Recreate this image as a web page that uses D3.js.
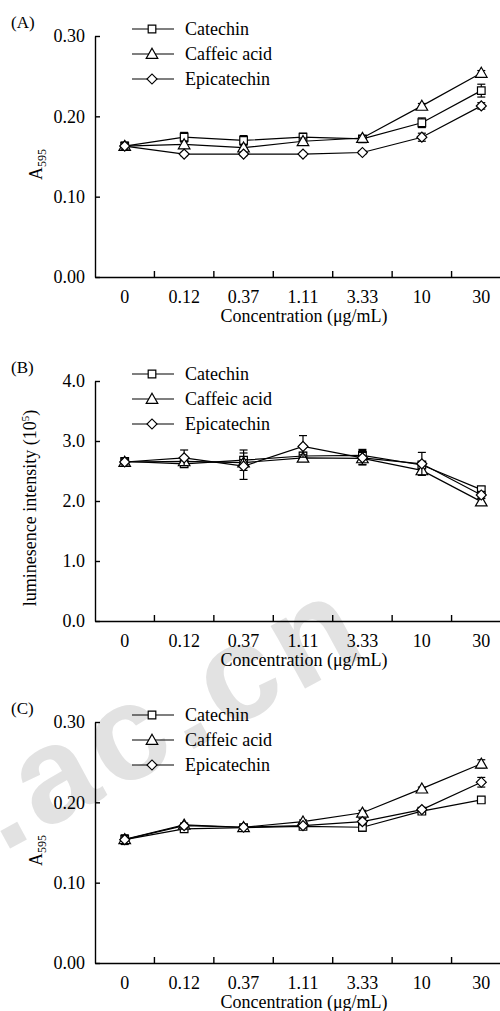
<!DOCTYPE html>
<html>
<head>
<meta charset="utf-8">
<script src="https://cdn.jsdelivr.net/npm/d3@7"></script>
<style>
  html, body { margin: 0; padding: 0; background: #fff; }
  svg { display: block; }
  text { font-family: "Liberation Serif", "Times New Roman", serif; fill: #000; }
</style>
</head>
<body>
<svg width="500" height="1011"></svg>
<script>
'use strict'

const concentrations = ['0', '0.12', '0.37', '1.11', '3.33', '10', '30'];
const seriesNames = ['Catechin', 'Caffeic acid', 'Epicatechin'];

// panel A : A595
const aCatechin = [0.163, 0.174, 0.170, 0.174, 0.172, 0.192, 0.232];
const aCatechinErr = [0.005, 0.006, 0.006, 0.005, 0.003, 0.006, 0.008];
const aCaffeic = [0.163, 0.165, 0.161, 0.169, 0.173, 0.213, 0.254];
const aCaffeicErr = [0.004, 0.004, 0.004, 0.004, 0.003, 0.003, 0.003];
const aEpicatechin = [0.163, 0.153, 0.153, 0.153, 0.155, 0.174, 0.213];
const aEpicatechinErr = [0.004, 0.002, 0.002, 0.002, 0.002, 0.005, 0.004];

// panel B : luminescence (10^5)
const bCatechin = [2.66, 2.62, 2.68, 2.75, 2.76, 2.60, 2.19];
const bCatechinErr = [0.06, 0.05, 0.17, 0.06, 0.10, 0.05, 0.05];
const bCaffeic = [2.65, 2.66, 2.64, 2.72, 2.71, 2.51, 1.99];
const bCaffeicErr = [0.05, 0.05, 0.05, 0.05, 0.10, 0.08, 0.06];
const bEpicatechin = [2.65, 2.72, 2.58, 2.91, 2.72, 2.62, 2.10];
const bEpicatechinErr = [0.05, 0.13, 0.22, 0.18, 0.12, 0.19, 0.06];

// panel C : A595
const cCatechin = [0.1535, 0.167, 0.1685, 0.170, 0.169, 0.189, 0.203];
const cCatechinErr = [0.006, 0.002, 0.002, 0.002, 0.005, 0.002, 0.003];
const cCaffeic = [0.154, 0.172, 0.169, 0.176, 0.187, 0.217, 0.248];
const cCaffeicErr = [0.005, 0.002, 0.002, 0.002, 0.003, 0.002, 0.005];
const cEpicatechin = [0.1535, 0.171, 0.169, 0.171, 0.176, 0.191, 0.225];
const cEpicatechinErr = [0.005, 0.003, 0.002, 0.002, 0.004, 0.002, 0.006];

const a595Ticks = [0, 0.1, 0.2, 0.3];
const lumTicks = [0, 1, 2, 3, 4];

const svg = d3.select('svg');

// watermark behind everything
svg.append('text')
  .attr('transform', 'translate(2,853) rotate(-28.5)')
  .style('font-family', 'Liberation Sans, Arial, sans-serif')
  .style('font-weight', 'bold')
  .style('font-size', '135px')
  .style('letter-spacing', '7px')
  .style('fill', '#e2e2e2')
  .text('.ac.cn');

// square, triangle, diamond (square turned 45deg)
const symbols = [d3.symbolSquare, d3.symbolTriangle, d3.symbolSquare];
const symbolSizes = [58, 58, 50];
const symbolTurn = [0, 0, 45];
const symbolShift = [0, 1, 0];

const x = d3.scaleBand().domain(concentrations).range([95, 511]);

function drawPanel(p) {
  const g = svg.append('g');
  const y = d3.scaleLinear().domain([0, p.max]).range([p.bottom, p.top]);

  g.append('text').attr('x', 11).attr('y', p.top - 8)
    .style('font-size', '17px').text(p.tag);

  // y axis, inward ticks
  const yAxis = g.append('g').attr('transform', 'translate(95,0)')
    .call(d3.axisLeft(y).tickValues(p.ticks).tickFormat(d3.format(p.fmt))
      .tickSizeInner(-5).tickSizeOuter(0).tickPadding(10));
  yAxis.selectAll('text').style('font-size', '18px').style('font-family', 'Liberation Serif, serif');
  yAxis.select('.domain').attr('stroke-width', 1.4);
  yAxis.selectAll('.tick line').attr('stroke-width', 1.4);

  // x axis: labels at band centres, ticks at band edges
  const xAxis = g.append('g').attr('transform', `translate(0,${p.bottom})`)
    .call(d3.axisBottom(x).tickSize(0).tickPadding(13));
  xAxis.selectAll('text').style('font-size', '18px').style('font-family', 'Liberation Serif, serif');
  xAxis.select('.domain').attr('stroke-width', 1.4);
  g.selectAll('.xedge').data(concentrations.slice(1)).join('line')
    .attr('x1', d => x(d)).attr('x2', d => x(d))
    .attr('y1', p.bottom).attr('y2', p.bottom - 6)
    .attr('stroke', '#000').attr('stroke-width', 1.4);

  g.append('text').attr('x', 304).attr('y', p.bottom + 45)
    .attr('text-anchor', 'middle').style('font-size', '18px')
    .text('Concentration (μg/mL)');

  // y title
  const yt = g.append('text')
    .attr('transform', `translate(${p.titleX},${(p.top + p.bottom) / 2 + p.titleShift}) rotate(-90)`)
    .attr('text-anchor', 'middle').style('font-size', '18px');
  p.title(yt);

  const line = d3.line().x((d, i) => x(concentrations[i]) + x.bandwidth() / 2).y(d => y(d));

  p.series.forEach(s => {
    g.append('path').datum(s.values).attr('d', line)
      .attr('fill', 'none').attr('stroke', '#000').attr('stroke-width', 1.2);
  });

  p.series.forEach((s, k) => {
    const pts = s.values.map((v, i) => ({ v, e: s.err[i], c: concentrations[i] }));
    const cx = d => x(d.c) + x.bandwidth() / 2;
    g.selectAll(null).data(pts).join('line')
      .attr('x1', cx).attr('x2', cx)
      .attr('y1', d => y(d.v - d.e)).attr('y2', d => y(d.v + d.e))
      .attr('stroke', '#000').attr('stroke-width', 1.2);
    [1, -1].forEach(sg => {
      g.selectAll(null).data(pts).join('line')
        .attr('x1', d => cx(d) - 4).attr('x2', d => cx(d) + 4)
        .attr('y1', d => y(d.v + sg * d.e)).attr('y2', d => y(d.v + sg * d.e))
        .attr('stroke', '#000').attr('stroke-width', 1.2);
    });
    g.selectAll(null).data(pts).join('path')
      .attr('d', d3.symbol(symbols[k], symbolSizes[k]))
      .attr('transform', d => `translate(${cx(d)},${y(d.v) + symbolShift[k]}) rotate(${symbolTurn[k]})`)
      .attr('fill', '#fff').attr('stroke', '#000').attr('stroke-width', 1.2);
  });

  // legend
  seriesNames.forEach((name, k) => {
    const ly = p.top - 7 + k * 25;
    g.append('line').attr('x1', 132).attr('x2', 174).attr('y1', ly).attr('y2', ly)
      .attr('stroke', '#000').attr('stroke-width', 1.2);
    g.append('path').attr('d', d3.symbol(symbols[k], symbolSizes[k]))
      .attr('transform', `translate(152,${ly + symbolShift[k]}) rotate(${symbolTurn[k]})`)
      .attr('fill', '#fff').attr('stroke', '#000').attr('stroke-width', 1.2);
    g.append('text').attr('x', 185).attr('y', ly + 6).style('font-size', '18px').text(name);
  });
}

function a595Title(t) {
  t.append('tspan').text('A');
  t.append('tspan').attr('dy', 4).style('font-size', '12px').text('595');
}

drawPanel({
  tag: '(A)', top: 36, bottom: 277, max: 0.3, ticks: a595Ticks, fmt: '.2f',
  titleX: 42, titleShift: 8, title: a595Title,
  series: [
    { values: aCatechin, err: aCatechinErr },
    { values: aCaffeic, err: aCaffeicErr },
    { values: aEpicatechin, err: aEpicatechinErr }
  ]
});

drawPanel({
  tag: '(B)', top: 381, bottom: 621, max: 4, ticks: lumTicks, fmt: '.1f',
  titleX: 36, titleShift: 7,
  title: t => {
    t.append('tspan').text('luminesence intensity (10');
    t.append('tspan').attr('dy', -7).style('font-size', '11px').text('5');
    t.append('tspan').attr('dy', 7).text(')');
  },
  series: [
    { values: bCatechin, err: bCatechinErr },
    { values: bCaffeic, err: bCaffeicErr },
    { values: bEpicatechin, err: bEpicatechinErr }
  ]
});

drawPanel({
  tag: '(C)', top: 722, bottom: 963, max: 0.3, ticks: a595Ticks, fmt: '.2f',
  titleX: 42, titleShift: 8, title: a595Title,
  series: [
    { values: cCatechin, err: cCatechinErr },
    { values: cCaffeic, err: cCaffeicErr },
    { values: cEpicatechin, err: cEpicatechinErr }
  ]
});
</script>
</body>
</html>
